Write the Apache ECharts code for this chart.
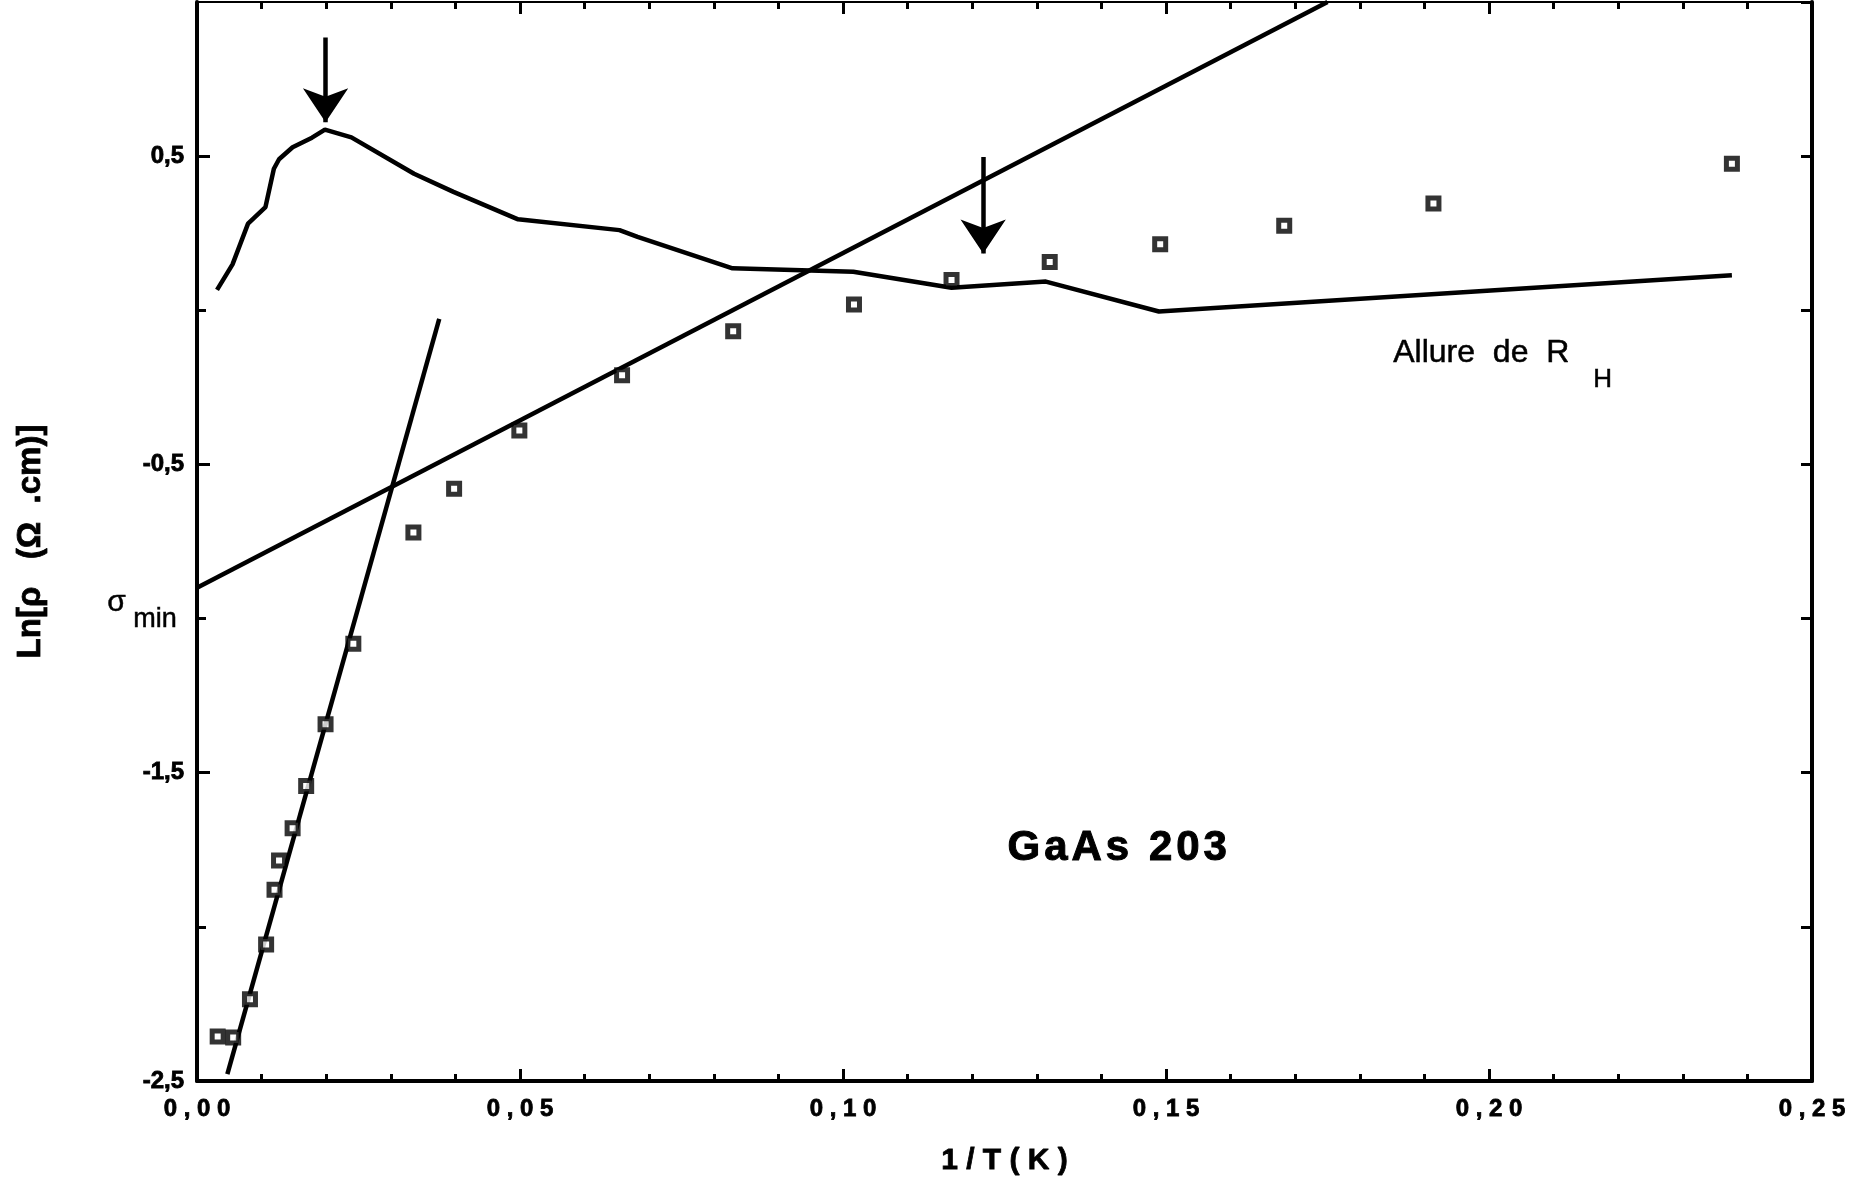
<!DOCTYPE html>
<html>
<head>
<meta charset="utf-8">
<script src="https://cdn.jsdelivr.net/npm/echarts@6/dist/echarts.min.js"></script>
<style>
  html, body { margin: 0; padding: 0; background: #ffffff; }
  #chart { width: 1871px; height: 1186px; }
</style>
</head>
<body>
<div id="chart"></div>
<script>
// Measured resistivity: 1/T (K^-1) and Ln(rho)
const rhoInvT = [0.0032, 0.0056, 0.0082, 0.0107, 0.0120, 0.0127, 0.0148, 0.0169, 0.0199, 0.0242,
                 0.0335, 0.0398, 0.0499, 0.0658, 0.0830, 0.1017, 0.1168, 0.1320, 0.1491, 0.1683,
                 0.1914, 0.2376];
const rhoLn   = [-2.356, -2.359, -2.235, -2.057, -1.880, -1.785, -1.680, -1.543, -1.343, -1.082,
                 -0.721, -0.579, -0.390, -0.211, -0.068, 0.019, 0.098, 0.157, 0.214, 0.274,
                 0.346, 0.475];

// Shape of the Hall coefficient R_H (drawn on the same scale)
const hallInvT  = [0.0031, 0.0055, 0.0079, 0.0106, 0.0119, 0.0127, 0.0148, 0.0178, 0.0198, 0.0239,
                   0.0336, 0.0397, 0.0497, 0.0654, 0.0682, 0.0829, 0.1016, 0.1168, 0.1314, 0.1489,
                   0.2376];
const hallShape = [0.066, 0.149, 0.281, 0.335, 0.459, 0.490, 0.529, 0.560, 0.586, 0.561,
                   0.443, 0.384, 0.295, 0.260, 0.238, 0.136, 0.125, 0.073, 0.093, -0.004,
                   0.114];

// Straight-line fits (end points)
const steepFitInvT   = [0.0047, 0.0375];
const steepFitLn     = [-2.478, -0.028];
const shallowFitInvT = [0.0, 0.175];
const shallowFitLn   = [-0.90, 1.0];

// Arrows marking the Hall maximum and sigma_min
const arrowInvT = [0.0199, 0.1217];
const arrowFrom = [0.885, 0.497];
const arrowTo   = [0.610, 0.184];

// Axis settings
const yLabelValues = [-2.5, -1.5, -0.5, 0.5];
const yMinorValues = [-2.0, -1.0, 0.0];

const FONT = 'Liberation Sans, Arial, Helvetica, sans-serif';
const zip = (xs, ys) => xs.map((x, i) => [x, ys[i]]);

// Plain annotation text
function note(str, font, left, top, weight) {
  return {
    type: 'text', left: left, top: top,
    style: { text: str, font: font, fill: '#000', stroke: '#000', lineWidth: weight }
  };
}

// Text drawn character by character with extra letter spacing
const measureCtx = document.createElement('canvas').getContext('2d');
function spacedText(str, font, spacing, left, top, weight) {
  measureCtx.font = font;
  const children = [];
  let x = 0;
  for (const ch of str) {
    children.push({
      type: 'text', x: x, y: 0,
      style: { text: ch, font: font, fill: '#000', stroke: '#000', lineWidth: weight }
    });
    x += measureCtx.measureText(ch).width + spacing;
  }
  return { type: 'group', left: left, top: top, children: children };
}

const chart = echarts.init(document.getElementById('chart'), null, { renderer: 'canvas' });

const blackLine = { color: '#000', width: 4.5 };
const boldText = { color: '#000', fontFamily: FONT, fontWeight: 'bold', textBorderColor: '#000', textBorderWidth: 0.8 };

const option = {
  backgroundColor: '#ffffff',
  animation: false,
  grid: { left: 197, right: 59, top: 2, bottom: 105, containLabel: false },
  xAxis: [
    {
      type: 'value', position: 'bottom', min: 0, max: 0.25, interval: 0.05,
      axisLine: { show: true, onZero: false, lineStyle: { color: '#000', width: 4 } },
      axisTick: { show: true, inside: true, length: 12, lineStyle: { color: '#000', width: 3 } },
      minorTick: { show: true, splitNumber: 5, length: 7, lineStyle: { color: '#000', width: 3 } },
      splitLine: { show: false },
      axisLabel: Object.assign({}, boldText, {
        fontSize: 24, margin: 16,
        formatter: v => v.toFixed(2).replace('.', ',').split('').join(' ')
      }),
      name: '1 / T ( K )', nameLocation: 'middle', nameGap: 65,
      nameTextStyle: Object.assign({}, boldText, { fontSize: 30 })
    },
    {
      type: 'value', position: 'top', min: 0, max: 0.25, interval: 0.05,
      axisLine: { show: true, onZero: false, lineStyle: { color: '#000', width: 2 } },
      axisTick: { show: true, inside: true, length: 12, lineStyle: { color: '#000', width: 3 } },
      minorTick: { show: true, splitNumber: 5, length: 7, lineStyle: { color: '#000', width: 3 } },
      splitLine: { show: false },
      axisLabel: { show: false }
    }
  ],
  yAxis: [
    {
      type: 'value', position: 'left', min: -2.5, max: 1.0, interval: 0.5,
      axisLine: { show: true, onZero: false, lineStyle: { color: '#000', width: 4 } },
      axisTick: { show: true, inside: true, length: 13, customValues: yLabelValues,
                  lineStyle: { color: '#000', width: 3 } },
      splitLine: { show: false },
      axisLabel: Object.assign({}, boldText, {
        customValues: yLabelValues, fontSize: 24, margin: 13,
        formatter: v => String(v).replace('.', ',')
      }),
      name: 'Ln[ρ   (Ω  .cm)]', nameLocation: 'middle', nameGap: 150,
      nameTextStyle: Object.assign({}, boldText, { fontSize: 33 })
    },
    {
      type: 'value', position: 'left', min: -2.5, max: 1.0, interval: 0.5,
      axisLine: { show: false },
      axisTick: { show: true, inside: true, length: 9, customValues: yMinorValues,
                  lineStyle: { color: '#000', width: 3 } },
      splitLine: { show: false },
      axisLabel: { show: false }
    },
    {
      type: 'value', position: 'right', min: -2.5, max: 1.0, interval: 0.5,
      axisLine: { show: true, onZero: false, lineStyle: { color: '#000', width: 4 } },
      axisTick: { show: true, inside: true, length: 11, lineStyle: { color: '#000', width: 3 } },
      splitLine: { show: false },
      axisLabel: { show: false }
    }
  ],
  series: [
    {
      name: 'Allure de RH', type: 'line', xAxisIndex: 0, yAxisIndex: 0,
      data: zip(hallInvT, hallShape), showSymbol: false, symbol: 'none',
      lineStyle: blackLine, z: 2
    },
    {
      name: 'fit HT', type: 'line', xAxisIndex: 0, yAxisIndex: 0,
      data: zip(steepFitInvT, steepFitLn), showSymbol: false, symbol: 'none',
      lineStyle: blackLine, z: 2
    },
    {
      name: 'fit BT', type: 'line', xAxisIndex: 0, yAxisIndex: 0,
      data: zip(shallowFitInvT, shallowFitLn), showSymbol: false, symbol: 'none',
      lineStyle: blackLine, z: 2
    },
    {
      name: 'Ln rho', type: 'scatter', xAxisIndex: 0, yAxisIndex: 0,
      data: zip(rhoInvT, rhoLn), symbol: 'rect', symbolSize: 11,
      itemStyle: { color: '#ffffff', borderColor: '#000', borderWidth: 5 }, z: 4
    },
    {
      name: 'arrows', type: 'lines', coordinateSystem: 'cartesian2d', xAxisIndex: 0, yAxisIndex: 0,
      data: arrowInvT.map((x, i) => ({ coords: [[x, arrowFrom[i]], [x, arrowTo[i]]] })),
      symbol: ['none', 'arrow'], symbolSize: [[1, 1], [34, 34]],
      lineStyle: { color: '#000', width: 4.5, opacity: 1, curveness: 0 }, z: 3
    }
  ],
  graphic: [
    note('Allure  de  R', 'normal 32px ' + FONT, 1393, 337, 0.5),
    note('H', 'normal 26px ' + FONT, 1593, 367, 0.5),
    note('σ', 'normal 30px ' + FONT, 107, 587, 0.5),
    note('min', 'normal 27px ' + FONT, 133, 606, 0.5),
    spacedText('GaAs 203', 'bold 42px ' + FONT, 4, 1007, 827, 1)
  ]
};

chart.setOption(option);
</script>
</body>
</html>
